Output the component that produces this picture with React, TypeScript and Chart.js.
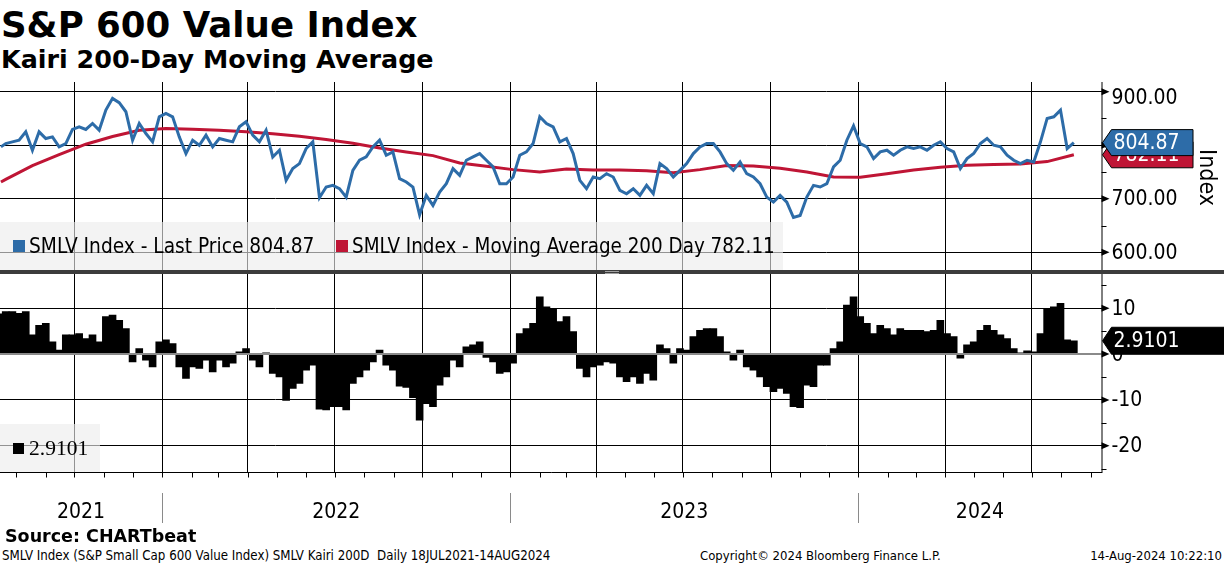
import { useEffect, useRef } from 'react';
import { Chart, registerables } from 'chart.js';

Chart.register(...registerables);

// day numbers (days since epoch) so the x axis is a plain linear scale
const day = (s: string) => Date.UTC(+s.slice(0, 4), +s.slice(5, 7) - 1, +s.slice(8, 10)) / 86400000;

const X_MIN = day('2021-07-15');
const X_MAX = day('2024-09-12');

// weekly prints (Wednesdays) from 21 Jul 2021 to 14 Aug 2024, plus the first print
const priceDates = [day('2021-07-16'), ...Array.from({ length: 161 }, (_, i) => day('2021-07-21') + 7 * i)];

const lastPrice = [
  796.9,
  803.1, 806.3, 809.4, 825.0, 790.6, 825.0, 812.5, 815.6, 796.9, 803.1,
  829.4, 834.4, 829.4, 840.6, 828.1, 865.6, 887.5, 879.4, 862.5, 809.4,
  840.6, 821.9, 806.3, 853.1, 859.4, 853.1, 815.6, 784.4, 809.4, 800.0,
  818.8, 796.9, 812.5, 809.4, 806.3, 834.4, 843.8, 818.8, 806.3, 828.1,
  778.1, 790.6, 734.4, 756.3, 765.6, 793.8, 806.3, 702.0, 721.9, 725.0,
  718.8, 703.1, 753.1, 771.9, 778.1, 796.9, 809.4, 781.3, 787.5, 737.5,
  731.3, 721.9, 670.0, 706.3, 687.5, 712.5, 728.1, 756.3, 743.8, 771.9,
  778.1, 784.4, 771.9, 759.4, 728.1, 728.1, 740.6, 781.3, 787.5, 803.1,
  853.1, 840.6, 834.4, 806.3, 812.5, 784.4, 734.4, 718.8, 740.6, 737.5,
  746.9, 740.6, 715.6, 709.4, 718.8, 706.3, 725.0, 709.4, 765.6, 756.3,
  740.6, 753.1, 765.6, 784.4, 796.9, 803.1, 803.1, 787.5, 765.6, 753.1,
  768.8, 746.9, 740.6, 728.1, 703.1, 693.8, 706.3, 693.8, 665.0, 668.8,
  703.1, 725.0, 721.9, 728.1, 759.4, 771.9, 809.4, 836.0, 803.1, 796.9,
  775.0, 787.5, 790.6, 781.3, 790.6, 796.9, 793.8, 796.9, 790.6, 800.0,
  806.3, 793.8, 787.5, 756.3, 775.0, 784.4, 803.1, 812.5, 800.0, 796.9,
  781.3, 771.9, 765.6, 771.9, 768.8, 806.3, 850.0, 853.1, 865.6, 793.8,
  804.87,
];

// Kairi 200D (% distance from the 200 day average), same dates as the price
const kairi = [
  8.8,
  9.3, 9.3, 8.9, 9.3, 4.2, 6.3, 6.7, 2.7, 0.9, 4.2,
  4.2, 4.5, 3.4, 4.2, 2.7, 8.2, 8.5, 7.4, 5.6, -1.7,
  1.2, -1.3, -2.8, 2.7, 3.1, 2.3, -2.8, -5.3, -2.8, -3.1,
  -1.3, -3.9, -1.3, -2.8, -2.0, 0.5, 1.2, -1.3, -2.8, 0.3,
  -4.2, -5.0, -10.1, -7.5, -6.4, -3.5, -2.4, -12.0, -12.2, -11.5,
  -11.5, -12.2, -6.4, -5.0, -3.5, -1.7, 0.9, -2.4, -3.5, -7.0,
  -7.3, -9.5, -14.4, -10.8, -11.5, -6.8, -5.0, -1.3, -2.8, 1.6,
  2.0, 2.7, -0.7, -1.7, -4.2, -3.9, -2.0, 4.5, 5.6, 6.7,
  12.5, 10.3, 10.0, 7.1, 8.2, 4.9, -3.1, -5.0, -2.8, -2.4,
  -1.7, -2.0, -5.0, -6.0, -5.0, -6.4, -4.2, -5.7, 2.0, 1.2,
  -2.0, 1.2, 0.9, 3.8, 5.2, 5.6, 5.6, 3.8, 0.5, -1.3,
  0.9, -2.8, -3.5, -5.0, -7.1, -8.2, -7.5, -8.6, -11.5, -11.7,
  -6.8, -7.1, -2.4, -2.4, 1.2, 2.7, 10.7, 12.5, 8.2, 6.7,
  4.5, 6.3, 5.6, 4.2, 5.6, 5.2, 5.2, 5.2, 4.9, 5.2,
  7.4, 4.5, 3.8, -0.9, 2.0, 2.7, 5.2, 6.3, 5.2, 4.2,
  3.4, 1.2, 0.3, 0.7, 0.5, 4.5, 10.0, 10.3, 11.1, 3.1,
  2.9101,
];

// 200 day moving average, every four weeks
const maDates = [day('2021-07-16'), ...Array.from({ length: 41 }, (_, k) => day('2021-07-21') + 28 * k)];
const movingAvg = [
  731.3, 736.3, 761.9, 782.5, 801.9, 816.3, 828.1, 831.3, 830.0, 828.1,
  825.0, 821.3, 816.9, 810.6, 803.8, 795.0, 787.5, 780.6, 766.9, 760.6,
  754.4, 750.0, 755.6, 753.8, 753.8, 752.5, 748.8, 754.4, 761.9, 761.3,
  756.9, 750.0, 740.6, 740.0, 746.9, 753.8, 758.8, 762.5, 763.8, 765.0,
  769.4, 782.11,
];

const priceTicks = [600, 700, 800, 900];
const priceMinor = [650, 750, 850];
const kairiTicks = [-20, -10, 0, 10];
const kairiMinor = [-25, -15, -5, 5, 15];

const yearLabels = ['2021', '2022', '2023', '2024'];
const yearBreaks = ['2022-01-01', '2023-01-01', '2024-01-01'].map(day);

const monthTicks: number[] = [];
const quarterTicks: number[] = [];
for (let y = 2021; y <= 2024; y++) {
  for (let m = 0; m < 12; m++) {
    const d = Date.UTC(y, m, 1) / 86400000;
    if (d <= X_MIN || d >= X_MAX) continue;
    monthTicks.push(d);
    if (m % 3 === 0) quarterTicks.push(d);
  }
}

const BLUE = '#2d6ca8';
const RED = '#bf1535';
const AXIS_FONT = '"DejaVu Sans Condensed", "DejaVu Sans", sans-serif';

function drawRightAxis(chart: Chart, majors: number[], minors: number[], fmt: (v: number) => string, minLabelY: number) {
  const { ctx, chartArea } = chart;
  const y = chart.scales.y;
  const right = chartArea.right;
  ctx.save();
  ctx.strokeStyle = '#000';
  ctx.lineWidth = 1;
  ctx.beginPath();
  ctx.moveTo(right + 0.5, chartArea.top);
  ctx.lineTo(right + 0.5, chartArea.bottom);
  ctx.stroke();
  minors.forEach((v) => {
    const py = Math.round(y.getPixelForValue(v)) + 0.5;
    ctx.beginPath();
    ctx.moveTo(right, py);
    ctx.lineTo(right + 5, py);
    ctx.stroke();
  });
  ctx.fillStyle = '#000';
  majors.forEach((v) => {
    const py = y.getPixelForValue(v);
    ctx.beginPath();
    ctx.moveTo(right, py - 3.5);
    ctx.lineTo(right + 8, py);
    ctx.lineTo(right, py + 3.5);
    ctx.closePath();
    ctx.fill();
  });
  ctx.font = `21px ${AXIS_FONT}`;
  ctx.textBaseline = 'middle';
  ctx.textAlign = 'left';
  majors.forEach((v) => {
    const py = Math.max(y.getPixelForValue(v), minLabelY);
    ctx.fillText(fmt(v), right + 10, py + 1);
  });
  ctx.restore();
}

function drawTag(ctx: CanvasRenderingContext2D, x0: number, x1: number, yc: number, h: number, fill: string, text: string) {
  ctx.save();
  ctx.beginPath();
  ctx.moveTo(x0, yc);
  ctx.lineTo(x0 + 9, yc - h / 2);
  ctx.lineTo(x1, yc - h / 2);
  ctx.lineTo(x1, yc + h / 2);
  ctx.lineTo(x0 + 9, yc + h / 2);
  ctx.closePath();
  ctx.fillStyle = fill;
  ctx.fill();
  ctx.strokeStyle = '#000';
  ctx.lineWidth = 1;
  ctx.stroke();
  ctx.fillStyle = '#fff';
  ctx.font = `21px ${AXIS_FONT}`;
  ctx.textBaseline = 'middle';
  ctx.textAlign = 'left';
  ctx.fillText(text, x0 + 11, yc + 1);
  ctx.restore();
}

const topAxisPlugin = {
  id: 'topAxis',
  afterDraw(chart: Chart) {
    const { ctx, chartArea } = chart;
    const y = chart.scales.y;
    drawRightAxis(chart, priceTicks, priceMinor, (v) => v.toFixed(2), 16);
    const right = chartArea.right;
    const ma = movingAvg[movingAvg.length - 1];
    const px = lastPrice[lastPrice.length - 1];
    drawTag(ctx, right + 1, 1193, y.getPixelForValue(ma), 26, RED, ma.toFixed(2));
    drawTag(ctx, right + 1, 1193, y.getPixelForValue(px), 26, BLUE, px.toFixed(2));
    ctx.save();
    ctx.translate(1206, 95.5);
    ctx.rotate(Math.PI / 2);
    ctx.font = `23px ${AXIS_FONT}`;
    ctx.fillStyle = '#000';
    ctx.textAlign = 'center';
    ctx.textBaseline = 'middle';
    ctx.fillText('Index', 0, 0);
    ctx.restore();
  },
};

const bottomAxisPlugin = {
  id: 'bottomAxis',
  afterDatasetsDraw(chart: Chart) {
    const { ctx, chartArea } = chart;
    const y0 = chart.scales.y.getPixelForValue(0);
    ctx.save();
    ctx.strokeStyle = '#8a8a8a';
    ctx.lineWidth = 2;
    ctx.beginPath();
    ctx.moveTo(chartArea.left, y0);
    ctx.lineTo(chartArea.right, y0);
    ctx.stroke();
    ctx.restore();
  },
  afterDraw(chart: Chart) {
    const { ctx, chartArea } = chart;
    const x = chart.scales.x;
    const y = chart.scales.y;
    drawRightAxis(chart, kairiTicks, kairiMinor, (v) => String(v), 0);
    const k = kairi[kairi.length - 1];
    drawTag(ctx, chartArea.right + 1, 1230, y.getPixelForValue(k), 27, '#000', k.toFixed(4));

    ctx.save();
    ctx.strokeStyle = '#000';
    ctx.lineWidth = 1;
    const b = Math.round(chartArea.bottom) + 0.5;
    ctx.beginPath();
    ctx.moveTo(chartArea.left, b);
    ctx.lineTo(chartArea.right + 1, b);
    ctx.stroke();
    monthTicks.forEach((d) => {
      const px = Math.round(x.getPixelForValue(d)) + 0.5;
      ctx.beginPath();
      ctx.moveTo(px, b);
      ctx.lineTo(px, b + 5);
      ctx.stroke();
    });
    ctx.strokeStyle = '#8a8a8a';
    yearBreaks.forEach((d) => {
      const px = Math.round(x.getPixelForValue(d)) + 0.5;
      ctx.beginPath();
      ctx.moveTo(px, 219);
      ctx.lineTo(px, 249);
      ctx.stroke();
    });
    const edges = [chartArea.left, ...yearBreaks.map((d) => x.getPixelForValue(d)), chartArea.right];
    ctx.fillStyle = '#000';
    ctx.font = `21px ${AXIS_FONT}`;
    ctx.textAlign = 'center';
    ctx.textBaseline = 'middle';
    yearLabels.forEach((t, i) => {
      ctx.fillText(t, (edges[i] + edges[i + 1]) / 2, 239);
    });
    ctx.restore();
  },
};

const xScale = () => ({
  type: 'linear' as const,
  min: X_MIN,
  max: X_MAX,
  offset: false,
  ticks: { display: false },
  grid: { color: '#000', lineWidth: 1, drawTicks: false, offset: false },
  border: { display: false },
  afterBuildTicks: (s: any) => {
    s.ticks = quarterTicks.map((v) => ({ value: v }));
  },
  afterFit: (s: any) => {
    s.height = 0;
  },
});

const yScale = (min: number, max: number, ticks: number[], color: (c: any) => string) => ({
  type: 'linear' as const,
  position: 'right' as const,
  min,
  max,
  ticks: { display: false },
  grid: { color, lineWidth: 1, drawTicks: false },
  border: { display: false },
  afterBuildTicks: (s: any) => {
    s.ticks = ticks.map((v) => ({ value: v }));
  },
  afterFit: (s: any) => {
    s.width = 0;
  },
});

export default function App() {
  const topRef = useRef<HTMLCanvasElement>(null);
  const botRef = useRef<HTMLCanvasElement>(null);

  useEffect(() => {
    if (!topRef.current || !botRef.current) return;

    const top = new Chart(topRef.current, {
      type: 'line',
      data: {
        datasets: [
          {
            label: 'SMLV Index - Last Price',
            data: priceDates.map((d, i) => ({ x: d, y: lastPrice[i] })),
            borderColor: BLUE,
            borderWidth: 3,
            pointRadius: 0,
            order: 0,
          },
          {
            label: 'SMLV Index - Moving Average 200 Day',
            data: maDates.map((d, i) => ({ x: d, y: movingAvg[i] })),
            borderColor: RED,
            borderWidth: 3,
            pointRadius: 0,
            order: 1,
          },
        ],
      },
      options: {
        animation: false,
        responsive: false,
        events: [],
        layout: { padding: { left: 0, right: 122.5, top: 0, bottom: 0 } },
        plugins: { legend: { display: false }, tooltip: { enabled: false } },
        scales: {
          x: xScale(),
          y: yScale(566.9, 918.1, priceTicks, () => '#000'),
        },
      },
      plugins: [topAxisPlugin],
    });

    const bot = new Chart(botRef.current, {
      type: 'bar',
      data: {
        datasets: [
          {
            label: 'SMLV Kairi 200D',
            data: priceDates.map((d, i) => ({ x: d, y: kairi[i] })),
            backgroundColor: '#000',
            borderWidth: 0,
            barThickness: 7,
          },
        ],
      },
      options: {
        animation: false,
        responsive: false,
        events: [],
        layout: { padding: { left: 0, right: 122.5, top: 0, bottom: 62 } },
        plugins: { legend: { display: false }, tooltip: { enabled: false } },
        scales: {
          x: xScale(),
          y: yScale(-25.74, 17.49, kairiTicks, (c: any) => (c.tick && c.tick.value === 0 ? 'rgba(0,0,0,0)' : '#000')),
        },
      },
      plugins: [bottomAxisPlugin],
    });

    return () => {
      top.destroy();
      bot.destroy();
    };
  }, []);

  const condensed = AXIS_FONT;

  return (
    <div style={{ position: 'absolute', left: 0, top: 0, width: 1224, height: 566, background: '#fff', overflow: 'hidden', color: '#000' }}>
      <div style={{ position: 'absolute', left: 1, top: 7, font: 'bold 35.6px "DejaVu Sans", Verdana, sans-serif', lineHeight: '35px', whiteSpace: 'nowrap' }}>
        S&amp;P 600 Value Index
      </div>
      <div style={{ position: 'absolute', left: 1, top: 47, font: 'bold 25.4px "DejaVu Sans", Verdana, sans-serif', lineHeight: '25px', whiteSpace: 'nowrap' }}>
        Kairi 200-Day Moving Average
      </div>

      <canvas ref={topRef} width={1224} height={188} style={{ position: 'absolute', left: 0, top: 82, width: 1224, height: 188 }} />
      <canvas ref={botRef} width={1224} height={260} style={{ position: 'absolute', left: 0, top: 274, width: 1224, height: 260 }} />

      <div style={{ position: 'absolute', left: 0, top: 270, width: 1224, height: 4, background: '#3c3c3c' }} />
      <div style={{ position: 'absolute', left: 605, top: 271, width: 14, height: 1, borderTop: '1px solid #a0a0a0', borderBottom: '1px solid #a0a0a0' }} />

      <div style={{ position: 'absolute', left: 0, top: 222, width: 783, height: 48, background: 'rgba(236,236,236,0.62)' }}>
        <div style={{ position: 'absolute', left: 13, top: 18, width: 12, height: 12, background: BLUE }} />
        <div style={{ position: 'absolute', left: 29, top: 14, font: `20.7px ${condensed}`, lineHeight: '20px', whiteSpace: 'nowrap' }}>
          SMLV Index - Last Price 804.87
        </div>
        <div style={{ position: 'absolute', left: 336, top: 18, width: 12, height: 12, background: RED }} />
        <div style={{ position: 'absolute', left: 352, top: 14, font: `20.4px ${condensed}`, lineHeight: '20px', whiteSpace: 'nowrap' }}>
          SMLV Index - Moving Average 200 Day 782.11
        </div>
      </div>

      <div style={{ position: 'absolute', left: 0, top: 424, width: 100, height: 48, background: 'rgba(236,236,236,0.62)' }}>
        <div style={{ position: 'absolute', left: 13, top: 19, width: 11, height: 11, background: '#000' }} />
        <div style={{ position: 'absolute', left: 29, top: 14, font: '21.5px "Liberation Serif", serif', lineHeight: '21px', whiteSpace: 'nowrap' }}>
          2.9101
        </div>
      </div>

      <div style={{ position: 'absolute', left: 5, top: 528, font: 'bold 17.5px "DejaVu Sans", Verdana, sans-serif', lineHeight: '17px', whiteSpace: 'nowrap' }}>
        Source:  CHARTbeat
      </div>
      <div style={{ position: 'absolute', left: 2, top: 549, font: `13.2px ${condensed}`, lineHeight: '14px', whiteSpace: 'pre' }}>
        SMLV Index (S&amp;P Small Cap 600 Value Index) SMLV Kairi 200D  Daily 18JUL2021-14AUG2024
      </div>
      <div style={{ position: 'absolute', left: 700, top: 549, font: `13px ${condensed}`, lineHeight: '14px', whiteSpace: 'nowrap' }}>
        Copyright© 2024 Bloomberg Finance L.P.
      </div>
      <div style={{ position: 'absolute', right: 2, top: 549, font: `13px ${condensed}`, lineHeight: '14px', whiteSpace: 'nowrap' }}>
        14-Aug-2024 10:22:10
      </div>
    </div>
  );
}
